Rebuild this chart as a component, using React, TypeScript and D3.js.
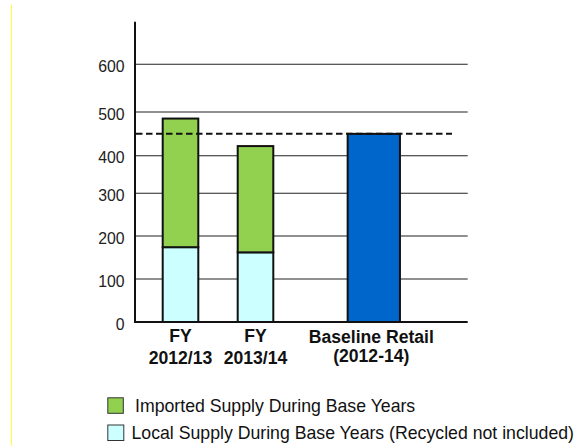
import React from "react";
import * as d3 from "d3";

// ---- data ----
const categories = ["FY 2012/13", "FY 2013/14", "Baseline Retail (2012-14)"];
const labelLine1 = ["FY", "FY", "Baseline Retail"];
const labelLine2 = ["2012/13", "2013/14", "(2012-14)"];
const localSupply = [174, 162, 0];
const importedSupply = [311, 260, 0];
const baselineRetail = [0, 0, 450];
const baselineValue = 450;
const yTicks = [0, 100, 200, 300, 400, 500, 600];
const legendLabels = [
  "Imported Supply During Base Years",
  "Local Supply During Base Years (Recycled not included)",
];

// ---- layout ----
const W = 577;
const H = 446;
const axisX = 135;
const plotRight = 467.7;
const axisTop = 21.7;
const FONT = "'Liberation Sans', Arial, Helvetica, sans-serif";
const COLORS = { imported: "#92d050", local: "#ccffff", baseline: "#0066cc" };

// polylinear scale to follow the reference's gridline spacing
const y = d3
  .scaleLinear()
  .domain(yTicks)
  .range([322, 279, 236, 193.3, 155.7, 112, 64.3]);

const x = d3
  .scaleOrdinal<string, number>()
  .domain(categories)
  .range([180.5, 255.5, 373.8]);
const barWidths = [35.6, 35.6, 52.3];

export default function App() {
  const stacks = categories.map((c, i) => {
    const segs: { y0: number; y1: number; fill: string }[] = [];
    let acc = 0;
    if (localSupply[i] > 0) {
      segs.push({ y0: acc, y1: acc + localSupply[i], fill: COLORS.local });
      acc += localSupply[i];
    }
    if (importedSupply[i] > 0) {
      segs.push({ y0: acc, y1: acc + importedSupply[i], fill: COLORS.imported });
      acc += importedSupply[i];
    }
    if (baselineRetail[i] > 0) {
      segs.push({ y0: acc, y1: acc + baselineRetail[i], fill: COLORS.baseline });
      acc += baselineRetail[i];
    }
    return { c, i, segs, total: acc };
  });

  return (
    <svg
      width={W}
      height={H}
      style={{ position: "absolute", left: 0, top: 0, background: "#fff" }}
      fontFamily={FONT}
    >
      <rect x={0} y={0} width={W} height={H} fill="#fff" />
      <line x1={11.5} x2={11.5} y1={5} y2={H} stroke="#ffff33" strokeWidth={1} />

      {/* gridlines */}
      {yTicks
        .filter((t) => t > 0)
        .map((t) => (
          <line
            key={t}
            x1={axisX}
            x2={plotRight}
            y1={y(t)}
            y2={y(t)}
            stroke="#222"
            strokeWidth={1.1}
          />
        ))}

      {/* tick labels */}
      {yTicks.map((t) => (
        <text
          key={"l" + t}
          x={124.5}
          y={y(t) + 2}
          dy="0.35em"
          textAnchor="end"
          fontSize={15.8}
          fill="#222"
        >
          {t}
        </text>
      ))}

      {/* bars */}
      {stacks.map((s) =>
        s.segs.map((seg, k) => (
          <rect
            key={s.c + k}
            x={x(s.c) - barWidths[s.i] / 2}
            y={y(seg.y1)}
            width={barWidths[s.i]}
            height={y(seg.y0) - y(seg.y1)}
            fill={seg.fill}
            stroke="#111"
            strokeWidth={2}
          />
        ))
      )}

      {/* axes */}
      <line x1={axisX} x2={axisX} y1={axisTop} y2={323} stroke="#111" strokeWidth={2} />
      <line x1={axisX - 1} x2={plotRight} y1={322} y2={322} stroke="#111" strokeWidth={2} />

      {/* dashed baseline */}
      <line
        x1={axisX + 1}
        x2={452}
        y1={y(baselineValue)}
        y2={y(baselineValue)}
        stroke="#111"
        strokeWidth={2}
        strokeDasharray="6.5,3.5"
      />

      {/* x labels */}
      {categories.map((c, i) => (
        <g key={"x" + c} fontWeight="bold" fontSize={17.6} fill="#111" textAnchor="middle">
          <text x={i === 2 ? x(c) - 2.5 : x(c)} y={i === 2 ? 343 : 342}>
            {labelLine1[i]}
          </text>
          <text x={i === 2 ? x(c) - 2.5 : x(c)} y={i === 2 ? 362 : 363.5}>
            {labelLine2[i]}
          </text>
        </g>
      ))}

      {/* legend */}
      <rect x={107.8} y={397.8} width={15.5} height={15.5} fill={COLORS.imported} stroke="#333" strokeWidth={1} />
      <text x={135} y={412} fontSize={17.7} fill="#111">
        {legendLabels[0]}
      </text>
      <rect x={107.8} y={425} width={16} height={15.5} fill={COLORS.local} stroke="#333" strokeWidth={1} />
      <text x={131.5} y={438.5} fontSize={17.7} fill="#111">
        {legendLabels[1]}
      </text>
    </svg>
  );
}
